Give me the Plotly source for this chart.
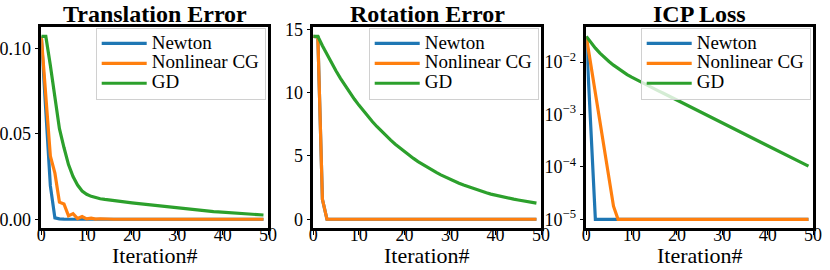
import plotly.graph_objects as go

iterations = list(range(50))

# Translation error
trans_newton = [0.107, 0.062, 0.0195, 0.0008, 0.0002, 0.0001] + [0.0] * 44
trans_ncg = [0.107, 0.072, 0.037, 0.027, 0.010, 0.009, 0.002, 0.0033, 0.0004, 0.0016,
             0.0002, 0.0006, 0.0001, 0.0003, 0.0001] + [0.0] * 35
trans_gd = [0.107, 0.107, 0.090, 0.070, 0.053, 0.042, 0.032, 0.025, 0.020, 0.0165,
            0.0146, 0.0134, 0.0126, 0.0120, 0.0116, 0.0112, 0.0108, 0.0105, 0.0102, 0.0099,
            0.0096, 0.0093, 0.0090, 0.0087, 0.0084, 0.0080, 0.0077, 0.0074, 0.0071, 0.0068,
            0.0065, 0.0062, 0.0059, 0.0056, 0.0053, 0.0051, 0.0049, 0.0047, 0.0045, 0.0043,
            0.0041, 0.0039, 0.0037, 0.0035, 0.0033, 0.0031, 0.0030, 0.0028, 0.0027, 0.0025]

# Rotation error
rot_newton = [14.45, 14.40, 1.58, 0.0] + [0.0] * 46
rot_ncg = [14.45, 14.40, 1.58, 0.0] + [0.0] * 46
rot_gd = [14.45, 14.45, 13.71, 13.01, 12.35, 11.72, 11.12, 10.55, 10.02, 9.50,
          9.02, 8.56, 8.12, 7.71, 7.31, 6.94, 6.59, 6.25, 5.93, 5.63,
          5.34, 5.07, 4.81, 4.56, 4.33, 4.11, 3.90, 3.70, 3.51, 3.33,
          3.16, 3.00, 2.85, 2.70, 2.57, 2.44, 2.32, 2.20, 2.09, 1.99,
          1.90, 1.82, 1.74, 1.66, 1.59, 1.52, 1.45, 1.39, 1.33, 1.27]

# ICP loss
icp_newton = [3.08e-2, 5.6e-4] + [1e-5] * 48
icp_ncg = [3.08e-2, 8.9e-3, 2.57e-3, 7.4e-4, 2.14e-4, 6.2e-5, 1.78e-5] + [1e-5] * 43
icp_gd = [3.08e-2, 2.344e-2, 1.841e-2, 1.479e-2, 1.216e-2, 1.023e-2, 8.71e-3, 7.50e-3, 6.53e-3, 5.75e-3,
          5.13e-3, 4.61e-3, 4.16e-3, 3.76e-3, 3.40e-3, 3.08e-3, 2.79e-3, 2.53e-3, 2.29e-3, 2.07e-3,
          1.88e-3, 1.70e-3, 1.54e-3, 1.39e-3, 1.26e-3, 1.14e-3, 1.03e-3, 9.33e-4, 8.43e-4, 7.64e-4,
          6.90e-4, 6.25e-4, 5.65e-4, 5.12e-4, 4.62e-4, 4.19e-4, 3.78e-4, 3.43e-4, 3.10e-4, 2.81e-4,
          2.54e-4, 2.30e-4, 2.07e-4, 1.88e-4, 1.70e-4, 1.54e-4, 1.39e-4, 1.26e-4, 1.14e-4, 1.03e-4]

series_names = ["Newton", "Nonlinear CG", "GD"]
colors = ["#1f77b4", "#ff7f0e", "#2ca02c"]
titles = ["Translation Error", "Rotation Error", "ICP Loss"]
x_label = "Iteration#"
x_ticks = [0, 10, 20, 30, 40, 50]
trans_ticks = [0, 0.05, 0.10]
trans_ticktext = ["0.00", "0.05", "0.10"]
rot_ticks = [0, 5, 10, 15]
icp_ticks = [1e-5, 1e-4, 1e-3, 1e-2]
icp_ticktext = ["10<sup>\u22125</sup>", "10<sup>\u22124</sup>", "10<sup>\u22123</sup>", "10<sup>\u22122</sup>"]

W, H = 830, 270
FONT = "'Liberation Serif', 'Times New Roman', serif"
panels_px = [(41.3, 268.0), (313.3, 541.0), (586.3, 813.0)]
top_px, bot_px = 27.3, 228.4

fig = go.Figure()
data = [
    [trans_newton, trans_ncg, trans_gd],
    [rot_newton, rot_ncg, rot_gd],
    [icp_newton, icp_ncg, icp_gd],
]
for p, series in enumerate(data):
    ax = "" if p == 0 else str(p + 1)
    for s, vals in enumerate(series):
        fig.add_trace(go.Scatter(
            x=iterations, y=vals, mode="lines",
            name="<span style='font-size:19px'>%s</span>" % series_names[s],
            line=dict(color=colors[s], width=3.2),
            xaxis="x" + ax, yaxis="y" + ax,
            legend="legend" + ax,
        ))

axis_common = dict(
    showline=True, mirror=True, linecolor="black", linewidth=2.5,
    ticks="outside", ticklen=4, tickwidth=1.2, tickcolor="black",
    showgrid=False, zeroline=False, automargin=False,
    tickfont=dict(family=FONT, size=18, color="black"),
)

layout = dict(
    width=W, height=H, autosize=False,
    margin=dict(l=0, r=0, t=0, b=0, pad=0),
    paper_bgcolor="white", plot_bgcolor="white",
    font=dict(family=FONT, color="black"),
    annotations=[],
)
ydom = [1 - bot_px / H, 1 - top_px / H]
for p, (x0, x1) in enumerate(panels_px):
    ax = "" if p == 0 else str(p + 1)
    layout["xaxis" + ax] = dict(
        axis_common, domain=[x0 / W, x1 / W], range=[0, 50], tickvals=x_ticks,
        anchor="y" + ax, ticklabelstandoff=-16,
    )
    layout["legend" + ax] = dict(
        x=(x1 - 2.3) / W, xanchor="right", y=1 - 27.5 / H, yanchor="top",
        bgcolor="rgba(255,255,255,0.8)", bordercolor="#d0d0d0", borderwidth=1,
        font=dict(family=FONT, size=13, color="black"), itemwidth=45,
    )
    layout["annotations"].append(dict(
        text="<b>%s</b>" % titles[p], x=(x0 + x1) / 2 / W, y=1 - 14 / H,
        xref="paper", yref="paper", xanchor="center", yanchor="middle",
        showarrow=False, font=dict(family=FONT, size=24, color="black"),
    ))
    layout["annotations"].append(dict(
        text=x_label, x=(x0 + x1) / 2 / W, y=1 - 255 / H,
        xref="paper", yref="paper", xanchor="center", yanchor="middle",
        showarrow=False, font=dict(family=FONT, size=22, color="black"),
    ))

layout["yaxis"] = dict(axis_common, domain=ydom, anchor="x",
                       range=[-0.00535, 0.11235], tickvals=trans_ticks, ticktext=trans_ticktext)
layout["yaxis2"] = dict(axis_common, domain=ydom, anchor="x2",
                        range=[-0.7225, 15.17], tickvals=rot_ticks)
layout["yaxis3"] = dict(axis_common, domain=ydom, anchor="x3", type="log",
                        range=[-5.174, -1.338], tickvals=icp_ticks, ticktext=icp_ticktext)

fig.update_layout(**layout)
fig.write_html("out.html", config={"displayModeBar": False},
               post_script="document.body.style.margin='0';")
